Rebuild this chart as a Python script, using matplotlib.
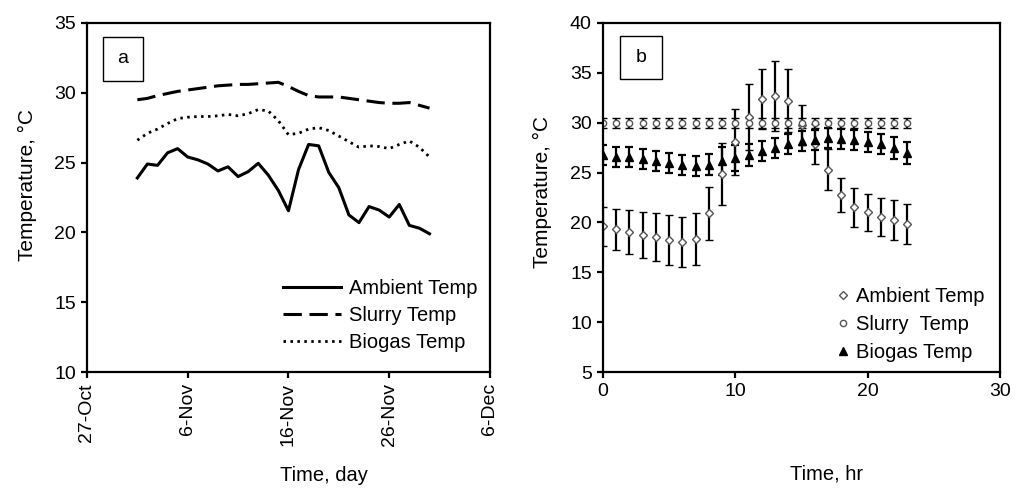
import numpy as np
import pandas as pd
import matplotlib
matplotlib.use('Agg')
import matplotlib.pyplot as plt
import matplotlib.dates as mdates
from matplotlib.patches import Rectangle
from matplotlib.ticker import FuncFormatter

plt.rcParams['font.family'] = ['Liberation Sans', 'DejaVu Sans']
plt.rcParams['font.size'] = 14

# panel a: daily temperatures, 1-30 Nov
days = pd.date_range('2012-11-01', periods=30, freq='D')
ambient_day = [23.9, 24.9, 24.8, 25.7, 26.0, 25.4, 25.2, 24.9, 24.4, 24.7,
               24.0, 24.35, 24.95, 24.1, 23.0, 21.55, 24.5, 26.3, 26.2, 24.3,
               23.2, 21.25, 20.7, 21.85, 21.6, 21.1, 22.0, 20.5, 20.3, 19.9]
slurry_day = [29.5, 29.6, 29.8, 29.95, 30.1, 30.2, 30.3, 30.4, 30.5, 30.55,
              30.6, 30.6, 30.65, 30.7, 30.75, 30.45, 30.1, 29.8, 29.7, 29.7,
              29.7, 29.6, 29.5, 29.4, 29.3, 29.25, 29.25, 29.3, 29.1, 28.9]
biogas_day = [26.6, 27.1, 27.4, 27.8, 28.15, 28.25, 28.3, 28.3, 28.35, 28.45,
              28.35, 28.5, 28.8, 28.7, 28.0, 27.0, 27.1, 27.4, 27.5, 27.3,
              26.9, 26.5, 26.1, 26.2, 26.15, 26.0, 26.3, 26.55, 26.1, 25.4]
date_ticks = pd.to_datetime(['2012-10-27', '2012-11-06', '2012-11-16',
                             '2012-11-26', '2012-12-06'])

# panel b: hourly means with error bars
hours = np.arange(24)
ambient_hr = [19.6, 19.3, 19.0, 18.7, 18.5, 18.2, 18.0, 18.3, 20.9, 24.85,
              28.05, 30.6, 32.35, 32.7, 32.2, 29.8, 27.9, 25.3, 22.75, 21.5,
              21.0, 20.5, 20.2, 19.85]
ambient_err = [1.95, 2.05, 2.2, 2.3, 2.4, 2.5, 2.5, 2.6, 2.7, 3.1,
               3.3, 3.3, 3.0, 3.5, 3.15, 2.0, 2.0, 2.05, 1.75, 1.95,
               1.9, 1.9, 2.0, 2.0]
slurry_hr = [30.0] * 24
slurry_err = [0.5] * 24
biogas_hr = [26.75, 26.6, 26.55, 26.35, 26.15, 26.0, 25.75, 25.65, 25.8, 26.15,
             26.45, 26.75, 27.2, 27.45, 27.85, 28.2, 28.3, 28.5, 28.4, 28.3,
             28.1, 27.85, 27.45, 26.95]
biogas_err = [1.0, 1.0, 1.0, 1.0, 1.0, 1.0, 1.0, 1.0, 1.05, 1.4,
              1.3, 1.1, 1.0, 1.0, 1.0, 1.0, 1.0, 1.0, 1.0, 1.0,
              1.0, 1.0, 1.1, 1.1]

fig = plt.figure(figsize=(10.22, 4.88), dpi=100)
ax1 = fig.add_axes([0.0851, 0.2377, 0.3943, 0.7152])
ax2 = fig.add_axes([0.5900, 0.2377, 0.3885, 0.7152])

for ax in (ax1, ax2):
    for s in ax.spines.values():
        s.set_linewidth(1.6)
    ax.tick_params(direction='out', length=4.5, width=1.6, labelsize=14)

# ---- a ----
ax1.plot(days, ambient_day, color='black', lw=2.2, solid_joinstyle='round',
         label='Ambient Temp')
ax1.plot(days, slurry_day, color='black', lw=2.2, dashes=(6, 2.5),
         label='Slurry Temp')
ax1.plot(days, biogas_day, color='black', lw=2.0, dashes=(0.9, 1.6),
         label='Biogas Temp')
ax1.set_xlim(date_ticks[0], date_ticks[-1])
ax1.set_ylim(10, 35)
ax1.set_yticks(np.arange(10, 36, 5))
ax1.set_xticks(date_ticks)
ax1.xaxis.set_major_formatter(FuncFormatter(
    lambda v, p: '%d-%s' % (mdates.num2date(v).day, mdates.num2date(v).strftime('%b'))))
plt.setp(ax1.get_xticklabels(), rotation=90)
ax1.set_xlabel('Time, day', fontsize=14.5)
ax1.xaxis.set_label_coords(0.588, -0.269)
ax1.set_ylabel('Temperature, °C', fontsize=15)
ax1.yaxis.set_label_coords(-0.125, 0.536)
ax1.legend(loc='lower right', bbox_to_anchor=(0.99, 0.035), borderaxespad=0,
           frameon=False, handlelength=2.9, handletextpad=0.4,
           labelspacing=0.4, fontsize=14.5)
ax1.add_patch(Rectangle((0.04, 0.834), 0.099, 0.126, transform=ax1.transAxes,
                        fill=False, lw=1.0, ec='black'))
ax1.text(0.0895, 0.897, 'a', transform=ax1.transAxes, ha='center', va='center')

# ---- b ----
ax2.errorbar(hours, ambient_hr, yerr=ambient_err, fmt='D', ms=4, mfc='white',
             mec='#555555', mew=1.0, ecolor='black', elinewidth=1.6, capsize=3,
             capthick=1.6, label='Ambient Temp')
ax2.errorbar(hours, slurry_hr, yerr=slurry_err, fmt='o', ms=4.5, mfc='white',
             mec='#555555', mew=1.0, ecolor='black', elinewidth=1.6, capsize=3,
             capthick=1.6, label='Slurry  Temp')
ax2.errorbar(hours, biogas_hr, yerr=biogas_err, fmt='^', ms=6, mfc='black',
             mec='black', ecolor='black', elinewidth=1.6, capsize=3,
             capthick=1.6, label='Biogas Temp')
ax2.set_xlim(0, 30)
ax2.set_ylim(5, 40)
ax2.set_xticks([0, 10, 20, 30])
ax2.set_yticks(np.arange(5, 41, 5))
ax2.set_xlabel('Time, hr', fontsize=14.5)
ax2.xaxis.set_label_coords(0.564, -0.264)
ax2.set_ylabel('Temperature, °C', fontsize=15)
ax2.yaxis.set_label_coords(-0.128, 0.516)
h, l = ax2.get_legend_handles_labels()
h = [x[0] for x in h]
ax2.legend(h, l, loc='lower right', bbox_to_anchor=(0.98, 0.005), borderaxespad=0,
           frameon=False, handlelength=0.6, handletextpad=0.3,
           labelspacing=0.45, fontsize=14.5)
ax2.add_patch(Rectangle((0.043, 0.8395), 0.106, 0.123, transform=ax2.transAxes,
                        fill=False, lw=1.0, ec='black'))
ax2.text(0.096, 0.901, 'b', transform=ax2.transAxes, ha='center', va='center')

fig.savefig('out.png', dpi=100)
